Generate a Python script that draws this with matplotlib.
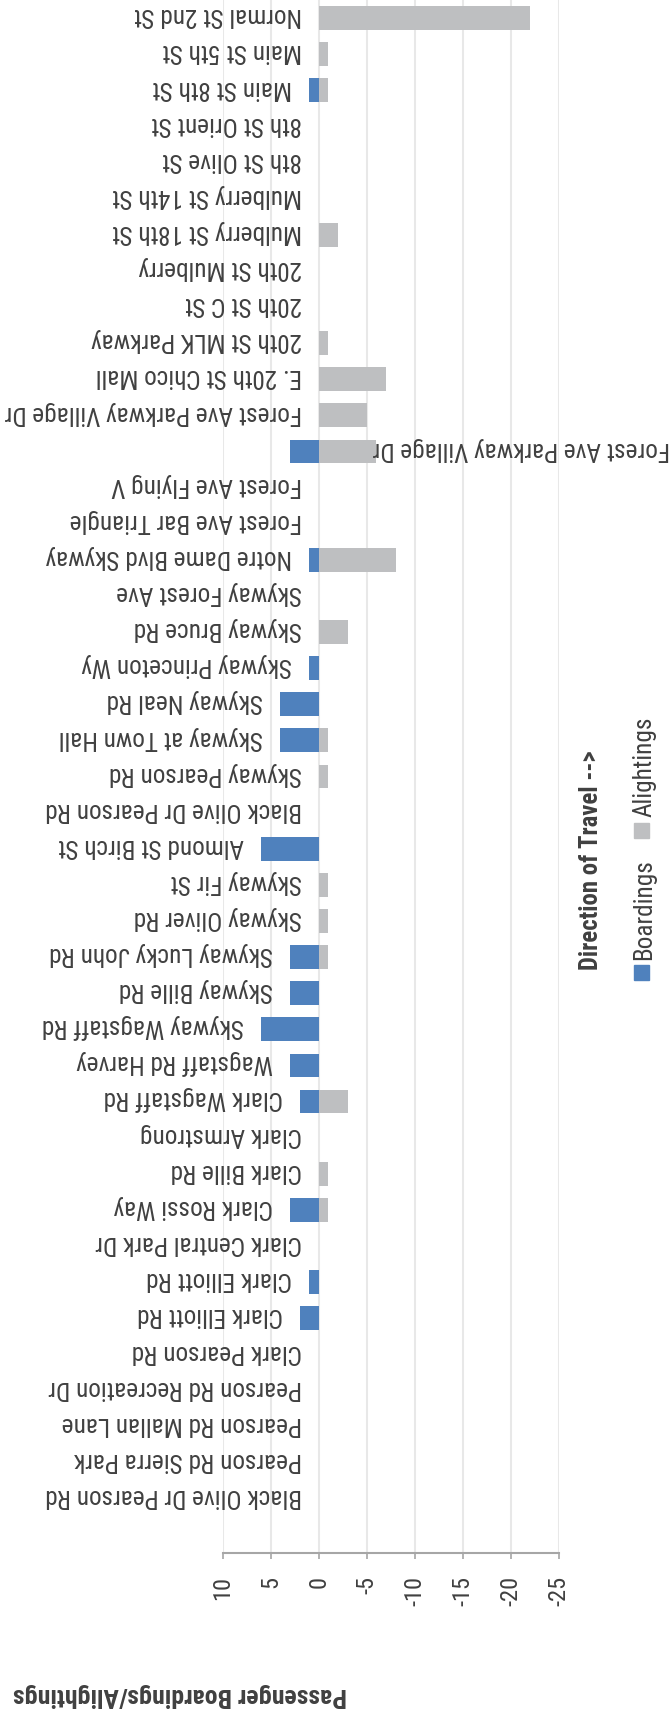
import os
import matplotlib.pyplot as plt
from matplotlib import font_manager as fm
from matplotlib.font_manager import FontProperties
from matplotlib.patches import Rectangle

stops = ['Normal St 2nd St', 'Main St 5th St', 'Main St 8th St', '8th St Orient St',
         '8th St Olive St', 'Mulberry St 14th St', 'Mulberry St 18th St',
         '20th St Mulberry', '20th St C St', '20th St MLK Parkway',
         'E. 20th St Chico Mall', 'Forest Ave Parkway Village Dr',
         'Forest Ave Parkway Village Dr', 'Forest Ave Flying V',
         'Forest Ave Bar Triangle', 'Notre Dame Blvd Skyway', 'Skyway Forest Ave',
         'Skyway Bruce Rd', 'Skyway Princeton Wy', 'Skyway Neal Rd',
         'Skyway at Town Hall', 'Skyway Pearson Rd', 'Black Olive Dr Pearson Rd',
         'Almond St Birch St', 'Skyway Fir St', 'Skyway Oliver Rd',
         'Skyway Lucky John Rd', 'Skyway Bille Rd', 'Skyway Wagstaff Rd',
         'Wagstaff Rd Harvey', 'Clark Wagstaff Rd', 'Clark Armstrong',
         'Clark Bille Rd', 'Clark Rossi Way', 'Clark Central Park Dr',
         'Clark Elliott Rd', 'Clark Elliott Rd', 'Clark Pearson Rd',
         'Pearson Rd Recreation Dr', 'Pearson Rd Mallan Lane',
         'Pearson Rd Sierra Park', 'Black Olive Dr Pearson Rd']

boardings = [0, 0, 1, 0, 0, 0, 0, 0, 0, 0,
             0, 0, 3, 0, 0, 1, 0, 0, 1, 4,
             4, 0, 0, 6, 0, 0, 3, 3, 6, 3,
             2, 0, 0, 3, 0, 1, 2, 0, 0, 0,
             0, 0]

alightings = [-22, -1, -1, 0, 0, 0, -2, 0, 0, -1,
              -7, -5, -6, 0, 0, -8, 0, -3, 0, 0,
              -1, -1, 0, 0, -1, -1, -1, 0, 0, 0,
              -3, 0, -1, -1, 0, 0, 0, 0, 0, 0,
              0, 0]

value_ticks = [10, 5, 0, -5, -10, -15, -20, -25]

blue = '#4F81BD'
grey = '#BEBFC1'
txt = '#404040'

# pick a narrow face if one is around
files = {os.path.basename(f.fname): f.fname for f in fm.fontManager.ttflist}
pairs = [('LiberationSansNarrow-Regular.ttf', 'LiberationSansNarrow-Bold.ttf'),
         ('RobotoCondensed-Regular.ttf', 'RobotoCondensed-Bold.ttf'),
         ('DejaVuSansCondensed.ttf', 'DejaVuSansCondensed-Bold.ttf')]
reg = FontProperties(family='Roboto')
bold = FontProperties(family='Roboto', weight='bold')
for r, b in pairs:
    if r in files:
        reg = FontProperties(fname=files[r])
        bold = FontProperties(fname=files[b]) if b in files else FontProperties(fname=files[r], weight='bold')
        break

W, H = 671, 1718
fig = plt.figure(figsize=(W / 100, H / 100), dpi=100)
renderer = fig.canvas.get_renderer()


def sized(fp, sample, target):
    # scale a face so that a sample string spans the width
    p = fp.copy()
    p.set_size(10)
    t = fig.text(0, 0, sample, fontproperties=p)
    w = t.get_window_extent(renderer).width
    t.remove()
    p.set_size(10 * target / w)
    return p


lab_fp = sized(reg, 'Forest Ave Parkway Village Dr', 297)
tick_fp = sized(reg, '-25', 30)
title_fp = sized(bold, 'Passenger Boardings/Alightings', 335)
leg_fp = sized(bold, 'Direction of Travel -->', 220)

ax = fig.add_axes([222.7 / W, (H - 1553) / H, (559 - 222.7) / W, 1553 / H])

pos = list(range(len(stops)))
ax.barh(pos, boardings, height=0.66, color=blue, zorder=2)
ax.barh(pos, alightings, height=0.66, color=grey, zorder=2)

ax.set_xlim(10, -25)
ax.set_ylim(42.5, -0.5)
ax.set_xticks(value_ticks)
ax.set_xticklabels([str(v) for v in value_ticks], rotation=90, color=txt,
                   fontproperties=tick_fp)
ax.set_yticks([])
ax.tick_params(axis='x', direction='out', length=4.3, width=1.2, color='#A6A6A6', pad=12)
ax.grid(axis='x', color='#E8E8E8', lw=1.5, zorder=0)
ax.set_axisbelow(True)
for s in ['top', 'left', 'right']:
    ax.spines[s].set_visible(False)
ax.spines['bottom'].set_color('#A6A6A6')
ax.spines['bottom'].set_linewidth(1.5)

# stop names sit just past the boarding bar, printed upside down
for i, (name, b) in enumerate(zip(stops, boardings)):
    if i == 12:
        ax.annotate(name, xy=(670 / W, i), xycoords=(fig.transFigure, ax.transData),
                    xytext=(0, 2), textcoords='offset points',
                    rotation=180, rotation_mode='anchor', ha='left', va='center',
                    fontproperties=lab_fp, color=txt, annotation_clip=False, zorder=3)
        continue
    ax.annotate(name, xy=(max(b, 0), i), xytext=(-12.2, 2), textcoords='offset points',
                rotation=180, rotation_mode='anchor', ha='left', va='center',
                fontproperties=lab_fp, color=txt, annotation_clip=False)

# axis title
fig.text(347 / W, 1 - 1695 / H, 'Passenger Boardings/Alightings', rotation=180,
         rotation_mode='anchor', ha='left', va='center',
         fontproperties=title_fp, color=txt)

# legend, turned on its side
fig.text(591 / W, 1 - 970 / H, 'Direction of Travel -->', rotation=90,
         ha='center', va='bottom', fontproperties=leg_fp, color=txt)
fig.patches.append(Rectangle((634 / W, 1 - 980 / H), 15 / W, 15 / H,
                             transform=fig.transFigure, color=blue))
fig.text(644 / W, 1 - 960 / H, 'Boardings', rotation=90, ha='center',
         va='bottom', fontproperties=lab_fp, color=txt)
fig.patches.append(Rectangle((634 / W, 1 - 838 / H), 15 / W, 15 / H,
                             transform=fig.transFigure, color=grey))
fig.text(644 / W, 1 - 817 / H, 'Alightings', rotation=90, ha='center',
         va='bottom', fontproperties=lab_fp, color=txt)

fig.savefig('out.png', dpi=100)
